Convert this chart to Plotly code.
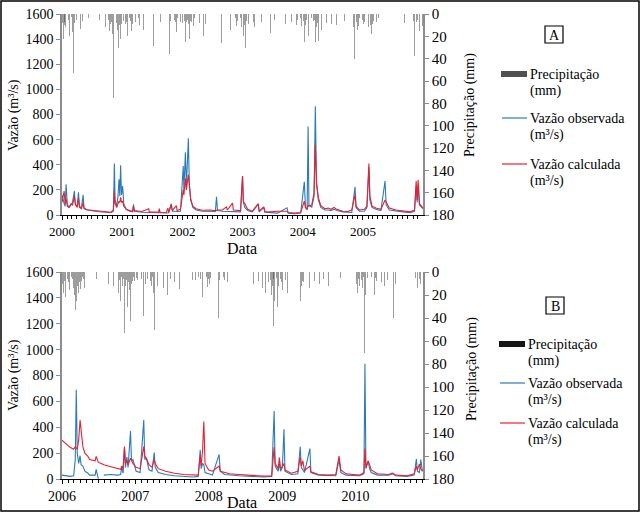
import plotly.graph_objects as go

# ---------------- Panel A (2000-2005) : flows ----------------
dates_a = ["2000-01-01","2000-01-08","2000-01-14","2000-01-20","2000-01-26","2000-02-02","2000-02-12","2000-02-25",
 "2000-03-05","2000-03-16","2000-03-22","2000-04-02","2000-04-10","2000-04-16","2000-04-28","2000-05-08","2000-05-14",
 "2000-06-01","2000-07-01","2000-08-01","2000-09-01","2000-10-01","2000-10-25","2000-11-08","2000-11-14","2000-11-18",
 "2000-11-28","2000-12-06","2000-12-12","2000-12-17","2000-12-22","2000-12-27","2001-01-03","2001-01-10","2001-01-25",
 "2001-02-15","2001-03-05","2001-03-10","2001-03-15","2001-05-01","2001-06-10","2001-06-14","2001-08-10","2001-08-14",
 "2001-08-18","2001-09-25","2001-10-05","2001-10-10","2001-10-25","2001-11-01","2001-11-25","2001-11-30","2001-12-20",
 "2002-01-06","2002-01-10","2002-01-19","2002-01-25","2002-02-06","2002-02-12","2002-02-20","2002-03-05","2002-03-25",
 "2002-05-01","2002-06-15","2002-07-20","2002-07-27","2002-08-02","2002-09-01","2002-09-25","2002-10-01","2002-11-01",
 "2002-11-06","2002-12-20","2003-01-01","2003-01-06","2003-01-15","2003-02-01","2003-03-01","2003-04-06","2003-04-12",
 "2003-05-10","2003-05-16","2003-06-20","2003-08-01","2003-09-28","2003-10-05","2003-11-15","2003-12-20","2004-01-11",
 "2004-01-18","2004-01-28","2004-02-03","2004-02-08","2004-02-25","2004-03-10","2004-03-18","2004-03-25","2004-04-05",
 "2004-04-20","2004-05-15","2004-06-05","2004-06-20","2004-07-10","2004-07-25","2004-09-01","2004-10-01","2004-10-25",
 "2004-11-14","2004-11-20","2004-12-10","2005-01-10","2005-01-25","2005-02-06","2005-02-12","2005-02-25","2005-03-20",
 "2005-04-20","2005-05-15","2005-05-22","2005-06-10","2005-07-20","2005-09-01","2005-10-15","2005-11-10","2005-11-20",
 "2005-11-26","2005-12-02","2005-12-10","2005-12-31"]
obs_a = [160,110,90,70,245,90,60,80,100,190,80,70,180,70,55,160,50,40,33,28,25,20,18,30,410,120,70,150,285,150,395,160,
 230,90,45,30,25,85,30,22,20,20,18,40,18,16,20,18,90,30,30,28,30,390,200,500,220,610,250,120,60,40,30,30,28,145,35,30,
 30,30,30,30,25,310,100,60,35,25,85,25,60,22,18,15,57,15,10,15,265,60,40,705,80,60,150,865,250,120,60,40,40,35,45,35,
 25,20,20,225,60,30,30,60,380,120,60,45,35,270,80,40,30,25,18,30,230,100,240,80,50]
calc_a = [100,150,190,90,130,70,60,90,80,150,90,60,130,60,50,100,55,42,38,35,30,25,22,40,190,90,60,90,110,100,140,100,
 110,70,45,35,30,70,35,28,50,25,22,50,22,20,55,22,80,35,75,35,45,200,160,290,200,320,220,130,70,50,38,40,35,40,40,40,
 65,40,95,40,35,310,110,90,45,30,90,30,65,28,25,30,30,20,15,20,110,60,50,80,70,80,170,560,260,140,75,50,55,45,60,45,
 30,28,40,160,70,40,45,70,410,150,70,55,45,120,100,55,40,32,25,40,270,120,280,90,55]

# ---------------- Panel B (2006-2010) : flows ----------------
dates_b = ["2006-01-01","2006-01-20","2006-02-10","2006-02-28","2006-03-08","2006-03-13","2006-03-18","2006-03-25",
 "2006-04-01","2006-04-06","2006-04-15","2006-04-25","2006-05-10","2006-05-18","2006-06-15","2006-06-20","2006-06-26",
 "2006-07-01","2006-07-15","2006-07-28","2006-09-01","2006-10-05","2006-10-20","2006-10-25","2006-11-01","2006-11-08",
 "2006-11-13","2006-11-20","2006-11-26","2006-12-08","2006-12-13","2006-12-20","2007-01-05","2007-01-25","2007-02-12",
 "2007-02-17","2007-02-25","2007-03-10","2007-03-25","2007-04-05","2007-04-10","2007-04-25","2007-06-01","2007-07-15",
 "2007-09-01","2007-10-15","2007-11-10","2007-11-20","2007-11-25","2007-12-02","2007-12-08","2007-12-14","2008-01-01",
 "2008-01-20","2008-02-22","2008-02-28","2008-03-20","2008-04-15","2008-06-01","2008-08-01","2008-10-01","2008-11-10",
 "2008-11-22","2008-11-27","2008-12-12","2008-12-18","2008-12-24","2009-01-02","2009-01-10","2009-01-15","2009-02-15",
 "2009-03-20","2009-04-01","2009-04-06","2009-04-14","2009-04-22","2009-05-19","2009-05-24","2009-07-01","2009-08-15",
 "2009-09-25","2009-10-11","2009-10-20","2009-11-15","2010-01-20","2010-02-12","2010-02-17","2010-02-22","2010-03-05",
 "2010-03-12","2010-03-20","2010-04-20","2010-06-15","2010-07-05","2010-07-20","2010-09-15","2010-10-20","2010-10-31",
 "2010-11-05","2010-11-15","2010-11-22","2010-11-30"]
obs_b = [30,25,20,25,150,690,200,120,180,110,100,60,45,30,30,75,30,0,None,30,35,30,35,90,45,250,90,170,90,370,140,150,
 60,50,455,150,160,70,60,205,90,50,35,25,20,15,20,225,80,120,110,50,40,30,190,60,35,30,25,20,15,20,525,100,60,120,60,
 90,385,60,35,40,250,90,70,50,235,50,30,25,25,150,50,30,25,40,890,80,140,80,50,30,30,40,25,20,30,155,60,50,150,60]
calc_b = [300,270,245,230,250,240,230,300,455,380,250,200,175,150,140,175,140,128,120,110,95,80,75,100,80,250,120,140,
 110,160,140,120,90,80,250,180,160,110,90,150,120,80,60,45,35,30,30,180,100,230,445,120,70,60,100,60,50,40,35,30,22,25,
 245,120,80,165,80,95,120,70,45,60,170,100,140,65,100,55,35,30,35,178,70,40,30,50,235,90,140,110,70,40,35,45,30,25,40,
 100,70,115,80,60]

# ---------------- Precipitation (mm) ----------------
rain_dates_a = ["2000-01-03","2000-01-06","2000-01-09","2000-01-12","2000-01-15","2000-01-19","2000-01-23","2000-01-27",
 "2000-02-02","2000-02-06","2000-02-10","2000-02-15","2000-02-20","2000-02-24","2000-03-01","2000-03-05","2000-03-10",
 "2000-03-14","2000-03-20","2000-03-26","2000-04-02","2000-04-08","2000-04-14","2000-04-22","2000-05-05","2000-05-20",
 "2000-06-10","2000-07-01","2000-07-20","2000-08-15","2000-09-20","2000-10-05","2000-10-15","2000-10-22","2000-11-02",
 "2000-11-08","2000-11-12","2000-11-17","2000-11-22","2000-11-28","2000-12-03","2000-12-08","2000-12-12","2000-12-16",
 "2000-12-21","2000-12-26","2001-01-05","2001-01-12","2001-01-20","2001-02-01","2001-02-10","2001-02-18","2001-02-25",
 "2001-03-05","2001-03-12","2001-03-18","2001-03-25","2001-04-05","2001-04-15","2001-04-25","2001-05-10","2001-05-20",
 "2001-06-05","2001-06-12","2001-06-25","2001-07-10","2001-07-20","2001-08-05","2001-08-20","2001-09-10","2001-09-25",
 "2001-10-05","2001-10-15","2001-10-25","2001-11-05","2001-11-10","2001-11-18","2001-11-25","2001-12-05","2001-12-12",
 "2001-12-20","2001-12-28","2002-01-03","2002-01-06","2002-01-10","2002-01-15","2002-01-19","2002-01-24","2002-01-30",
 "2002-02-04","2002-02-08","2002-02-14","2002-02-20","2002-03-01","2002-03-10","2002-03-20","2002-04-05","2002-04-15",
 "2002-04-25","2002-05-10","2002-05-20","2002-06-10","2002-07-10","2002-07-25","2002-08-10","2002-08-25","2002-09-10",
 "2002-10-05","2002-10-20","2002-11-05","2002-11-15","2002-11-25","2002-12-05","2002-12-15","2002-12-25","2003-01-03",
 "2003-01-08","2003-01-14","2003-01-20","2003-01-27","2003-02-05","2003-02-15","2003-03-01","2003-03-15","2003-04-06",
 "2003-04-12","2003-04-25","2003-05-10","2003-05-25","2003-06-20","2003-07-15","2003-08-15","2003-09-20","2003-10-10",
 "2003-10-25","2003-11-10","2003-11-25","2003-12-05","2003-12-15","2003-12-25","2004-01-03","2004-01-08","2004-01-12",
 "2004-01-17","2004-01-22","2004-01-28","2004-02-02","2004-02-06","2004-02-10","2004-02-15","2004-02-20","2004-02-26",
 "2004-03-03","2004-03-10","2004-03-15","2004-03-18","2004-03-24","2004-03-30","2004-04-05","2004-04-15","2004-04-25",
 "2004-05-10","2004-05-25","2004-06-10","2004-06-25","2004-07-10","2004-07-25","2004-09-10","2004-10-10","2004-10-25",
 "2004-11-05","2004-11-10","2004-11-18","2004-11-28","2004-12-05","2004-12-15","2004-12-25","2005-01-05","2005-01-15",
 "2005-01-25","2005-02-03","2005-02-08","2005-02-15","2005-02-22","2005-03-01","2005-03-10","2005-03-20","2005-04-01",
 "2005-04-10","2005-04-20","2005-05-01","2005-05-10","2005-05-15","2005-05-22","2005-06-01","2005-06-15","2005-07-10",
 "2005-07-25","2005-08-15","2005-09-10","2005-10-01","2005-10-15","2005-10-25","2005-11-01","2005-11-10","2005-11-18",
 "2005-11-25","2005-12-02","2005-12-10","2005-12-20","2005-12-28",
 # additional light-rain days
 "2000-01-01","2000-01-17","2000-01-30","2000-02-12","2000-02-28","2000-03-17","2000-03-29","2000-04-18","2000-04-27",
 "2000-10-10","2000-10-28","2000-11-05","2000-11-25","2000-12-01","2000-12-19","2000-12-30","2001-01-08","2001-01-16",
 "2001-01-27","2001-02-05","2001-02-14","2001-02-21","2001-03-01","2001-03-22","2001-04-10","2001-04-20","2001-10-20",
 "2001-11-14","2001-11-21","2001-12-01","2001-12-16","2001-12-24","2002-01-01","2002-01-13","2002-01-21","2002-01-27",
 "2002-02-01","2002-02-11","2002-02-17","2002-02-25","2002-03-05","2002-03-15","2002-03-25","2002-10-10","2002-11-10",
 "2002-11-20","2002-12-01","2002-12-10","2002-12-20","2003-01-11","2003-01-17","2003-01-24","2003-02-10","2003-02-20",
 "2003-03-08","2003-03-22","2003-11-15","2003-11-30","2003-12-10","2003-12-20","2004-01-06","2004-01-15","2004-01-25",
 "2004-02-13","2004-02-23","2004-03-06","2004-03-13","2004-03-21","2004-03-27","2004-04-10","2004-04-20","2004-11-22",
 "2004-12-10","2004-12-20","2004-12-30","2005-01-10","2005-01-20","2005-01-30","2005-02-12","2005-02-18","2005-02-26",
 "2005-03-05","2005-03-15","2005-03-25","2005-04-05","2005-04-15","2005-11-05","2005-11-14","2005-11-22","2005-11-29",
 "2005-12-06","2005-12-15","2005-12-24"]
rain_mm_a = [8,15,22,48,10,6,12,18,9,14,5,20,8,11,7,16,53,9,12,6,10,33,7,13,6,9,4,27,8,5,12,7,15,9,18,75,20,11,25,8,
 14,30,58,10,22,9,12,6,9,20,7,12,15,9,40,18,8,25,10,6,14,8,40,12,5,29,9,14,7,20,12,8,36,10,12,44,9,16,11,22,7,14,
 15,56,20,12,25,9,14,18,9,22,6,23,11,14,26,8,12,20,9,7,12,41,8,26,6,10,14,9,20,11,8,16,12,73,20,10,30,12,9,14,8,
 12,55,10,7,20,6,17,5,14,9,12,7,15,10,9,14,11,12,60,25,10,18,14,59,20,35,12,18,9,15,22,68,25,12,8,24,10,14,26,8,
 12,9,28,10,6,10,8,12,40,9,14,11,7,13,9,14,25,12,27,10,18,9,20,12,8,16,10,14,90,22,12,9,7,18,6,20,8,24,10,7,14,
 38,12,20,9,15,8,11,
 5,7,4,6,3,8,5,6,4,5,7,4,6,5,8,4,6,3,7,5,4,6,5,7,4,5,6,5,7,4,6,5,8,6,4,7,5,6,4,7,5,4,6,5,7,4,6,5,4,7,5,6,4,5,7,4,
 6,5,7,4,6,8,5,7,4,6,5,8,4,6,5,7,4,6,5,7,4,6,5,8,4,6,5,7,4,5,6,4,7,5,6,4,5]

rain_dates_b = ["2006-01-03","2006-01-08","2006-01-13","2006-01-18","2006-01-25","2006-02-02","2006-02-08","2006-02-14",
 "2006-02-20","2006-02-26","2006-03-04","2006-03-09","2006-03-13","2006-03-18","2006-03-24","2006-03-29","2006-04-04",
 "2006-04-10","2006-04-16","2006-04-22","2006-05-01","2006-05-11","2006-05-20","2006-06-05","2006-06-15","2006-06-22",
 "2006-07-10","2006-08-20","2006-09-15","2006-10-01","2006-10-10","2006-10-20","2006-10-28","2006-11-05","2006-11-08",
 "2006-11-14","2006-11-22","2006-11-28","2006-12-04","2006-12-08","2006-12-14","2006-12-20","2006-12-27","2007-01-04",
 "2007-01-10","2007-01-15","2007-01-20","2007-01-28","2007-02-04","2007-02-10","2007-02-14","2007-02-20","2007-02-27",
 "2007-03-06","2007-03-14","2007-03-22","2007-04-02","2007-04-07","2007-04-14","2007-04-22","2007-05-05","2007-05-20",
 "2007-06-10","2007-06-25","2007-07-15","2007-08-10","2007-09-05","2007-09-20","2007-10-05","2007-10-20","2007-10-28",
 "2007-11-05","2007-11-18","2007-11-25","2007-12-02","2007-12-05","2007-12-10","2007-12-18","2007-12-26","2008-01-05",
 "2008-01-12","2008-01-22","2008-02-02","2008-02-12","2008-02-20","2008-02-27","2008-03-08","2008-03-20","2008-04-05",
 "2008-04-20","2008-05-10","2008-06-15","2008-07-20","2008-08-10","2008-09-05","2008-09-25","2008-10-10","2008-10-25",
 "2008-11-02","2008-11-08","2008-11-15","2008-11-20","2008-11-25","2008-12-01","2008-12-08","2008-12-14","2008-12-20",
 "2008-12-28","2009-01-03","2009-01-09","2009-01-14","2009-01-20","2009-01-27","2009-02-05","2009-02-15","2009-02-25",
 "2009-03-05","2009-03-15","2009-03-25","2009-04-01","2009-04-08","2009-04-18","2009-05-05","2009-05-18","2009-06-10",
 "2009-07-05","2009-07-25","2009-08-20","2009-09-10","2009-09-25","2009-10-06","2009-10-12","2009-10-25","2009-11-05",
 "2010-01-05","2010-01-12","2010-01-20","2010-01-28","2010-02-05","2010-02-12","2010-02-16","2010-02-20","2010-02-26",
 "2010-03-05","2010-03-10","2010-03-18","2010-03-25","2010-04-05","2010-04-15","2010-04-28","2010-05-10","2010-05-25",
 "2010-06-10","2010-07-01","2010-07-08","2010-07-20","2010-08-10","2010-08-25","2010-09-10","2010-09-25","2010-10-05",
 "2010-10-15","2010-10-24","2010-10-30","2010-11-05","2010-11-12","2010-11-20","2010-11-27",
 # additional light-rain days
 "2006-01-05","2006-01-11","2006-01-21","2006-01-29","2006-02-05","2006-02-11","2006-02-17","2006-02-23","2006-03-01",
 "2006-03-06","2006-03-21","2006-03-27","2006-04-01","2006-04-07","2006-04-13","2006-04-19","2006-04-26","2006-10-15",
 "2006-10-24","2006-11-02","2006-11-11","2006-11-18","2006-11-25","2006-12-01","2006-12-11","2006-12-17","2006-12-23",
 "2006-12-30","2007-01-07","2007-01-13","2007-01-24","2007-02-01","2007-02-07","2007-02-17","2007-02-24","2007-03-02",
 "2007-03-10","2007-03-18","2007-03-27","2007-04-10","2007-04-18","2007-10-12","2007-11-12","2007-11-22","2007-11-29",
 "2007-12-14","2007-12-22","2007-12-30","2008-01-09","2008-01-17","2008-01-28","2008-02-07","2008-02-16","2008-02-24",
 "2008-03-14","2008-03-27","2008-10-18","2008-11-05","2008-11-12","2008-11-18","2008-12-04","2008-12-11","2008-12-17",
 "2008-12-24","2009-01-06","2009-01-17","2009-01-24","2009-01-31","2009-02-10","2009-02-20","2009-03-10","2009-03-20",
 "2009-04-04","2009-04-12","2009-04-25","2009-05-10","2009-10-18","2009-10-30","2010-01-08","2010-01-16","2010-01-24",
 "2010-02-01","2010-02-09","2010-02-23","2010-03-01","2010-03-14","2010-03-21","2010-03-29","2010-04-10","2010-04-22",
 "2010-10-10","2010-10-20","2010-10-27","2010-11-02","2010-11-08","2010-11-16","2010-11-23","2010-11-30"]
rain_mm_b = [10,18,8,22,12,9,16,28,10,14,20,33,25,12,18,9,15,47,10,14,20,68,8,9,16,6,5,10,12,9,18,25,12,20,53,12,30,
 9,16,43,10,22,8,12,20,50,9,16,12,38,22,10,14,9,20,12,18,50,9,12,7,14,20,6,9,15,28,8,10,20,7,14,30,12,22,69,16,9,13,
 10,18,9,14,22,40,10,12,7,9,14,6,12,5,10,8,14,18,9,14,20,12,47,25,10,30,12,20,9,16,69,22,10,18,12,20,8,14,29,10,25,
 12,9,20,14,8,10,6,12,9,14,35,10,8,12,10,18,12,22,14,30,70,20,12,38,16,9,12,20,8,14,9,12,7,25,40,10,8,14,10,18,12,
 24,62,20,14,25,10,18,
 5,7,4,6,5,8,4,6,5,7,4,6,5,8,4,6,5,7,4,6,5,7,4,6,5,8,4,6,5,7,4,6,5,7,4,6,5,8,4,6,5,7,4,6,5,7,4,6,5,8,4,6,5,7,4,6,
 5,7,4,6,5,8,4,6,5,7,4,6,5,7,4,6,5,8,4,6,5,7,4,6,5,7,4,6,5,8,4,6,5,7,4,6,5,7,4,6,5]

FONT = "Times New Roman, Liberation Serif, serif"
DAY = 86400000
BLUE = "#2b7bba"
RED = "#e8202f"
AXGRAY = "#8c8c8c"
RAIN = "rgba(60,60,60,0.5)"

fig = go.Figure()

# Panel A
fig.add_trace(go.Bar(x=rain_dates_a, y=rain_mm_a, xaxis="x", yaxis="y", width=DAY * 2.5,
                     marker=dict(color=RAIN, line_width=0)))
fig.add_trace(go.Scatter(x=dates_a, y=obs_a, xaxis="x", yaxis="y2", mode="lines",
                         line=dict(color=BLUE, width=1.1)))
fig.add_trace(go.Scatter(x=dates_a, y=calc_a, xaxis="x", yaxis="y2", mode="lines",
                         line=dict(color=RED, width=1.1)))
# Panel B
fig.add_trace(go.Bar(x=rain_dates_b, y=rain_mm_b, xaxis="x2", yaxis="y3", width=DAY * 2.5,
                     marker=dict(color=RAIN, line_width=0)))
fig.add_trace(go.Scatter(x=dates_b, y=obs_b, xaxis="x2", yaxis="y4", mode="lines", connectgaps=False,
                         line=dict(color=BLUE, width=1.1)))
fig.add_trace(go.Scatter(x=dates_b, y=calc_b, xaxis="x2", yaxis="y4", mode="lines",
                         line=dict(color=RED, width=1.1)))

W, H = 640, 512
def px(x):
    return x / W
def py(y):
    return 1 - y / H

xdom = [px(62), px(423)]
xa_common = dict(type="date", dtick="M12", tickformat="%Y", ticks="outside", ticklen=4,
                 tickcolor="black", showline=True, linecolor="black", linewidth=1.2, automargin=False,
                 showgrid=False, zeroline=False,
                 minor=dict(dtick="M1", ticks="outside", ticklen=3, tickcolor="black", showgrid=False))
flow_common = dict(range=[0, 1600], dtick=200, ticks="outside", ticklen=4, tickcolor=AXGRAY,
                   showline=True, linecolor=AXGRAY, linewidth=1.5, showgrid=False, zeroline=False,
                   automargin=False, side="left", tickfont=dict(family=FONT, size=14, color="black"))
rain_common = dict(range=[180, 0], dtick=20, ticks="outside", ticklen=4, tickcolor=AXGRAY,
                   showline=True, linecolor=AXGRAY, linewidth=1.5, showgrid=False, zeroline=False,
                   automargin=False, side="right", tickfont=dict(family=FONT, size=15, color="black"))

fig.update_layout(
    width=W, height=H, margin=dict(l=0, r=0, t=0, b=0, autoexpand=False),
    paper_bgcolor="white", plot_bgcolor="rgba(0,0,0,0)", showlegend=False, bargap=0,
    xaxis=dict(domain=xdom, anchor="y", range=["2000-01-01", "2005-12-31 12:00"],
               tickfont=dict(family=FONT, size=13, color="black"), **xa_common),
    yaxis=dict(domain=[py(215), py(14)], anchor="x", **rain_common),
    yaxis2=dict(overlaying="y", anchor="x", **flow_common),
    xaxis2=dict(domain=xdom, anchor="y3", range=["2006-01-01", "2010-12-03"],
                tickfont=dict(family=FONT, size=14, color="black"), **xa_common),
    yaxis3=dict(domain=[py(479), py(272)], anchor="x2", **rain_common),
    yaxis4=dict(overlaying="y3", anchor="x2", **flow_common),
)

shapes = []
annots = []
def txt(x, y, s, size=14, xanchor="left", angle=0):
    annots.append(dict(x=px(x), y=py(y), xref="paper", yref="paper", text=s, showarrow=False,
                       xanchor=xanchor, yanchor="middle", textangle=angle,
                       font=dict(family=FONT, size=size, color="black")))

# axis titles
txt(14, 115, "Vazão (m³/s)", 14, "center", -90)
txt(470, 105, "Precipitação (mm)", 14, "center", -90)
txt(242, 248, "Data", 16, "center")
txt(14, 375, "Vazão (m³/s)", 14, "center", -90)
txt(472, 369, "Precipitação (mm)", 14, "center", -90)
txt(242, 502, "Data", 16, "center")

def legend(y_p, y_o, y_c, x0, rain_color):
    shapes.append(dict(type="rect", xref="paper", yref="paper", x0=px(x0), x1=px(x0 + 26),
                       y0=py(y_p + 3), y1=py(y_p - 3), fillcolor=rain_color, line_width=0))
    txt(x0 + 27, y_p, "Precipitação", 14)
    txt(x0 + 27, y_p + 17, "(mm)", 14)
    shapes.append(dict(type="line", xref="paper", yref="paper", x0=px(x0 + 1), x1=px(x0 + 26),
                       y0=py(y_o), y1=py(y_o), line=dict(color=BLUE, width=1.2)))
    txt(x0 + 27, y_o, "Vazão observada", 14)
    txt(x0 + 27, y_o + 17, "(m³/s)", 14)
    shapes.append(dict(type="line", xref="paper", yref="paper", x0=px(x0 + 1), x1=px(x0 + 26),
                       y0=py(y_c), y1=py(y_c), line=dict(color=RED, width=1.2)))
    txt(x0 + 27, y_c, "Vazão calculada", 14)
    txt(x0 + 27, y_c + 17, "(m³/s)", 14)

legend(74, 118, 164, 501, "#505050")
legend(344, 383, 423, 499, "#151515")

# panel letters
for (x0, y0, x1, y1, s) in [(545, 26, 563, 43, "A"), (546, 297, 564, 314, "B")]:
    shapes.append(dict(type="rect", xref="paper", yref="paper", x0=px(x0), x1=px(x1),
                       y0=py(y1), y1=py(y0), line=dict(color="black", width=1.2)))
    txt((x0 + x1) / 2, (y0 + y1) / 2 + 0.5, s, 14, "center")

# outer border
shapes.append(dict(type="rect", xref="paper", yref="paper", x0=px(1), x1=px(639), y0=py(511), y1=py(1),
                   line=dict(color="black", width=1.5)))

fig.update_layout(shapes=shapes, annotations=annots)
fig.write_html("out.html", config={"displayModeBar": False},
               post_script="document.body.style.margin='0';")
